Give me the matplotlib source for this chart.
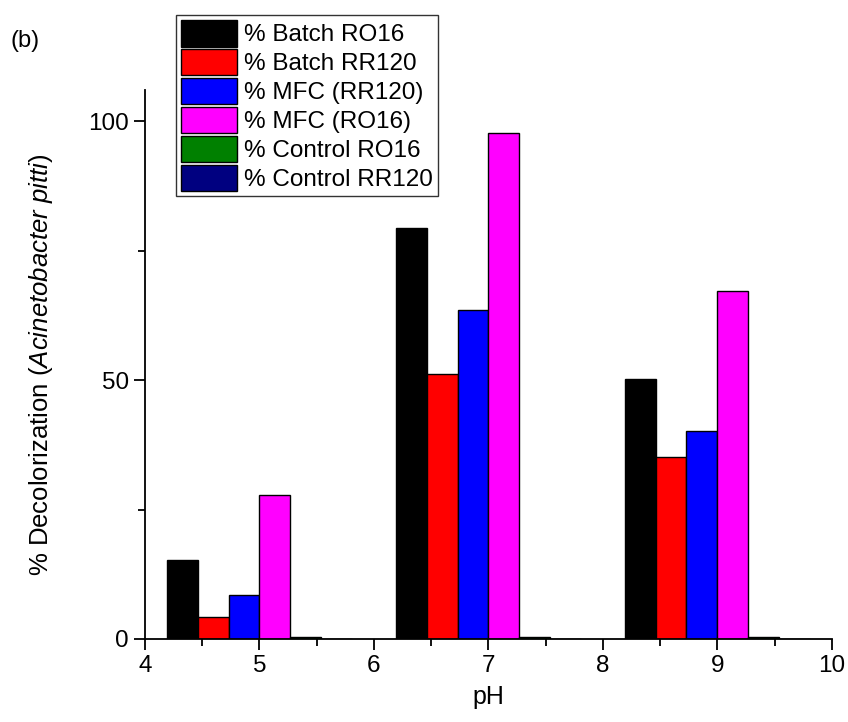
import matplotlib
matplotlib.use("Agg")
import matplotlib.pyplot as plt
import numpy as np
from matplotlib.ticker import MultipleLocator

plt.rcParams['font.family'] = ['Liberation Sans', 'DejaVu Sans']
plt.rcParams['mathtext.fontset'] = 'custom'
plt.rcParams['mathtext.rm'] = 'Liberation Sans'
plt.rcParams['mathtext.it'] = 'Liberation Sans:italic'

# data
ph = [5, 7, 9]
series = ['% Batch RO16', '% Batch RR120', '% MFC (RR120)', '% MFC (RO16)',
          '% Control RO16', '% Control RR120']
batch_ro16 = [15.3, 79.3, 50.2]
batch_rr120 = [4.2, 51.2, 35.1]
mfc_rr120 = [8.5, 63.5, 40.2]
mfc_ro16 = [27.9, 97.8, 67.2]
control_ro16 = [0.3, 0.3, 0.3]
control_rr120 = [0.0, 0.0, 0.0]
colors = ['#000000', '#FF0000', '#0000FF', '#FF00FF', '#008000', '#000080']

values = [batch_ro16, batch_rr120, mfc_rr120, mfc_ro16, control_ro16, control_rr120]

fig = plt.figure(figsize=(8.48, 7.22), dpi=100)
ax = fig.add_axes([0.171, 0.115, 0.810, 0.760])

w = 0.27
x = np.array(ph, dtype=float)
for i, (vals, name, c) in enumerate(zip(values, series, colors)):
    ax.bar(x - 3 * w + i * w, vals, width=w, align='edge', color=c,
           edgecolor='black', linewidth=1.0, label=name)

ax.set_xlim(4, 10)
ax.set_ylim(0, 106)
ax.xaxis.set_major_locator(MultipleLocator(1))
ax.xaxis.set_minor_locator(MultipleLocator(0.5))
ax.yaxis.set_major_locator(MultipleLocator(50))
ax.yaxis.set_minor_locator(MultipleLocator(25))
ax.spines['top'].set_visible(False)
ax.spines['right'].set_visible(False)
for s in ['left', 'bottom']:
    ax.spines[s].set_linewidth(1.3)
ax.tick_params(which='major', direction='out', length=8, width=1.3, labelsize=17.5)
ax.tick_params(which='minor', direction='out', length=5, width=1.3)

ax.set_xlabel('pH', fontsize=18, labelpad=6)
ax.set_ylabel('% Decolorization ($\\it{Acinetobacter\\ pitti}$)', fontsize=18.5, labelpad=24)

leg = fig.legend(loc='upper left', bbox_to_anchor=(0.2075, 0.979), fontsize=17.5,
                 frameon=True, fancybox=False, shadow=False, handlelength=2.3,
                 handleheight=1.3, labelspacing=0.1, handletextpad=0.3,
                 borderpad=0.2, borderaxespad=0)
leg.get_frame().set_edgecolor('black')
leg.get_frame().set_linewidth(1.0)

fig.text(0.012, 0.935, '(b)', fontsize=17)

fig.savefig('out.png', dpi=100)
